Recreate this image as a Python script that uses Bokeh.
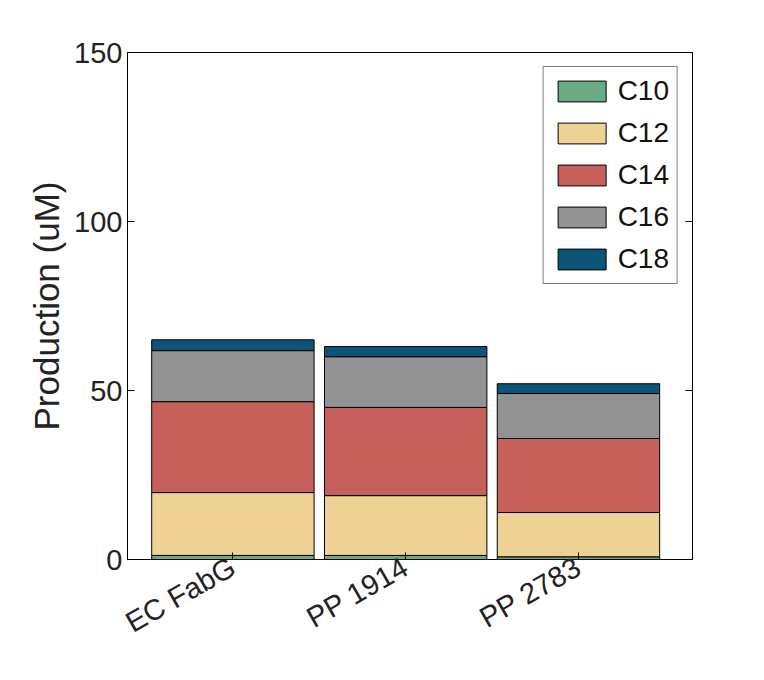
from bokeh.plotting import figure
from bokeh.models import ColumnDataSource, LinearAxis, Range1d, FixedTicker
from bokeh.embed import file_html
from bokeh.resources import INLINE

enzymes = ["EC FabG", "PP 1914", "PP 2783"]
positions = [1, 2, 3]
c10 = [1.2, 1.2, 0.8]
c12 = [18.6, 17.7, 13.1]
c14 = [26.9, 26.1, 21.9]
c16 = [15.1, 15.0, 13.3]
c18 = [3.2, 3.0, 2.9]
species = ["C10", "C12", "C14", "C16", "C18"]
colors = ["#6aaa85", "#eed293", "#c6605b", "#939393", "#0d5577"]

source = ColumnDataSource(dict(x=positions, C10=c10, C12=c12, C14=c14, C16=c16, C18=c18))

p = figure(width=748, height=664, output_backend="svg", toolbar_location=None,
           x_range=Range1d(0.39, 3.66), y_range=Range1d(0, 150),
           min_border_left=127, min_border_right=56, min_border_top=52, min_border_bottom=105)
p.vbar_stack(species, x="x", width=0.94, color=colors, line_color="black", line_width=1,
             source=source, legend_label=species)

p.xgrid.visible = False
p.ygrid.visible = False
p.outline_line_color = "black"
p.outline_line_width = 1

font = "Liberation Sans"
p.yaxis.ticker = FixedTicker(ticks=[0, 50, 100, 150])
p.xaxis.ticker = FixedTicker(ticks=positions)
p.xaxis.major_label_overrides = {k: v for k, v in zip(positions, enzymes)}
p.xaxis.major_label_orientation = 0.52
for ax in (p.xaxis, p.yaxis):
    ax.major_label_text_font = font
    ax.major_label_text_font_size = "29px"
    ax.major_label_text_color = "#222222"
    ax.major_tick_in = 7
    ax.major_tick_out = 0
    ax.minor_tick_line_color = None
    ax.axis_line_color = "black"
p.yaxis.axis_label = "Production (uM)"
p.yaxis.axis_label_text_font = font
p.yaxis.axis_label_text_font_size = "35px"
p.yaxis.axis_label_text_font_style = "normal"
p.yaxis.axis_label_text_color = "#222222"

right = LinearAxis(ticker=FixedTicker(ticks=[0, 50, 100, 150]), major_label_text_font_size="0px",
                   major_tick_in=7, major_tick_out=0, minor_tick_line_color=None)
p.add_layout(right, "right")

lg = p.legend[0]
lg.location = "top_right"
lg.label_text_font = font
lg.label_text_font_size = "28px"
lg.label_text_color = "#111111"
lg.glyph_width = 60
lg.glyph_height = 26
lg.label_height = 28
lg.spacing = 10
lg.padding = 8
lg.margin = 14
lg.border_line_color = "black"
lg.label_standoff = 6

open("out.html", "w").write(file_html(p, INLINE))
